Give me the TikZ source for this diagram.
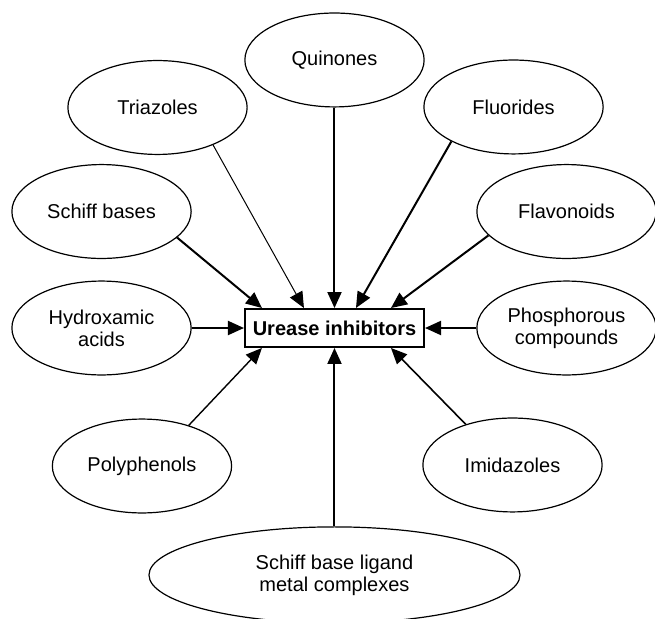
\documentclass[tikz,border=0pt]{standalone}
\usepackage{fontspec}
\setmainfont{Liberation Sans}
\usetikzlibrary{arrows.meta,shapes.geometric}

\tikzset{
    group/.style={ellipse, draw, line width=0.6pt, minimum width=3.15cm, minimum height=1.65cm,
        inner sep=0pt, align=center, font=\fontsize{10}{11}\selectfont},
    target/.style={rectangle, draw, line width=0.9pt, minimum width=3.15cm, minimum height=0.67cm,
        inner sep=0pt, font=\fontsize{10}{11}\selectfont\bfseries},
    feed/.style={-{Triangle[length=8pt,width=7pt]}, line width=1pt},
}

\begin{document}
\begin{tikzpicture}
    \useasboundingbox (-5.878,-5.096) rectangle (5.632,5.764);
    \node[target] (box) at (0,0) {Urease inhibitors};
    \node[group] (quin) at (0,4.71) {Quinones};
    \node[group] (tria) at (-3.11,3.875) {Triazoles};
    \node[group] (fluo) at (3.146,3.884) {Fluorides};
    \node[group] (schiff) at (-4.094,2.047) {Schiff bases};
    \node[group] (flav) at (4.077,2.047) {Flavonoids};
    \node[group] (hydro) at (-4.094,0) {Hydroxamic\\acids};
    \node[group] (phos) at (4.077,0) {Phosphorous\\compounds};
    \node[group] (poly) at (-3.383,-2.425) {Polyphenols};
    \node[group] (imid) at (3.128,-2.407) {Imidazoles};
    \node[group, minimum width=6.52cm, minimum height=1.69cm] (ligand) at (0,-4.34) {Schiff base ligand\\metal complexes};
    % arrow ends on the box
    \coordinate (t1) at ([xshift=0.316cm]box.north west);
    \coordinate (t2) at ([xshift=1.054cm]box.north west);
    \coordinate (t3) at ([xshift=1.968cm]box.north west);
    \coordinate (t4) at ([xshift=2.583cm]box.north west);
    \coordinate (b1) at ([xshift=0.316cm]box.south west);
    \coordinate (b4) at ([xshift=2.583cm]box.south west);
    \draw[feed] (quin) -- (box);
    \draw[feed, line width=0.5pt] (tria.-34) -- (t2);
    \draw[feed] (schiff.-19) -- (t1);
    \draw[feed] (fluo.-151) -- (t3);
    \draw[feed] (flav.-163) -- (t4);
    \draw[feed] (hydro) -- (box);
    \draw[feed] (phos) -- (box);
    \draw[feed, line width=0.7pt] (poly.41) -- (b1);
    \draw[feed, line width=0.8pt] (imid.139) -- (b4);
    \draw[feed] (ligand) -- (box);
\end{tikzpicture}
\end{document}
